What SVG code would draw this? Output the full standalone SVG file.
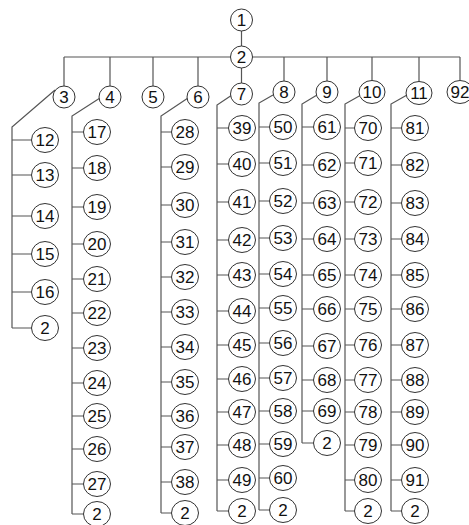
<svg xmlns="http://www.w3.org/2000/svg" width="469" height="525" viewBox="0 0 469 525">
<style>
.e{stroke:#555;stroke-width:1.2;fill:none}
.n ellipse{fill:#fff;stroke:#333;stroke-width:1}
.n text{font-family:"Liberation Sans",Arial,sans-serif;font-size:17px;fill:#111;text-anchor:middle}
</style>
<rect width="469" height="525" fill="#fff"/>
<g id="connectors" class="e">
<path d="M241.5 31V46M64 57H460M64 57V86M110 57V86M153 57V86M198 57V86M241.5 68V83M284 57V81M327 57V81M372 57V81M419 57V82M460 57V80"/>
<path d="M55 90L12 127V328M12 140H32M12 175H32M12 216H32M12 254H32M12 292H32M12 328H32"/>
<path d="M100 98L72 116V514M72 132H84M72 168H84M72 207H84M72 244H84M72 279H84M72 313H84M72 348H84M72 383H84M72 416H84M72 449H84M72 484H84M72 514H84"/>
<path d="M188 98L161 116V513M161 132H172M161 167H172M161 205H172M161 242H172M161 277H172M161 312H172M161 347H172M161 382H172M161 416H172M161 447H172M161 482H172M161 513H172"/>
<path d="M232 95L217 105V511M217 128H229M217 164H229M217 202H229M217 240H229M217 275H229M217 311H229M217 345H229M217 379H229M217 412H229M217 445H229M217 480H229M217 511H229"/>
<path d="M273 95L259 103V510M259 127H270M259 163H270M259 201H270M259 238H270M259 274H270M259 308H270M259 343H270M259 378H270M259 411H270M259 444H270M259 478H270M259 510H270"/>
<path d="M317 95L302 104V443M302 127H314M302 165H314M302 203H314M302 239H314M302 275H314M302 309H314M302 346H314M302 380H314M302 411H314M302 443H314"/>
<path d="M361 95L345 104V511M345 128H355M345 163H355M345 202H355M345 239H355M345 275H355M345 309H355M345 345H355M345 380H355M345 412H355M345 445H355M345 480H355M345 511H355"/>
<path d="M407 95L391 104V511M391 128H402M391 165H402M391 203H402M391 239H402M391 275H402M391 309H402M391 345H402M391 380H402M391 412H402M391 445H402M391 480H402M391 511H402"/>
</g>
<g id="nodes" class="n">
<g id="n1"><ellipse cx="241.5" cy="20" rx="11" ry="11"/><text x="241.5" y="26">1</text></g>
<g id="n2"><ellipse cx="241.5" cy="57" rx="11" ry="11"/><text x="241.5" y="63">2</text></g>
<g id="n3"><ellipse cx="64" cy="97" rx="11" ry="11"/><text x="64" y="103">3</text></g>
<g id="n4"><ellipse cx="110" cy="97" rx="11" ry="11"/><text x="110" y="103">4</text></g>
<g id="n5"><ellipse cx="153" cy="97" rx="11" ry="11"/><text x="153" y="103">5</text></g>
<g id="n6"><ellipse cx="198" cy="97" rx="11" ry="11"/><text x="198" y="103">6</text></g>
<g id="n7"><ellipse cx="241.5" cy="94" rx="11" ry="11"/><text x="241.5" y="100">7</text></g>
<g id="n8"><ellipse cx="284" cy="92" rx="11" ry="11"/><text x="284" y="98">8</text></g>
<g id="n9"><ellipse cx="327" cy="92" rx="11" ry="11"/><text x="327" y="98">9</text></g>
<g id="n10"><ellipse cx="372" cy="92" rx="13" ry="11.5"/><text x="372" y="98">10</text></g>
<g id="n11"><ellipse cx="419" cy="93" rx="13" ry="11.5"/><text x="419" y="99">11</text></g>
<g id="n92"><ellipse cx="460" cy="92" rx="13" ry="11.5"/><text x="460" y="98">92</text></g>

<g id="n12"><ellipse cx="45" cy="140" rx="13.5" ry="12.5"/><text x="45" y="146">12</text></g>
<g id="n13"><ellipse cx="45" cy="175" rx="13.5" ry="12.5"/><text x="45" y="181">13</text></g>
<g id="n14"><ellipse cx="45" cy="216" rx="13.5" ry="12.5"/><text x="45" y="222">14</text></g>
<g id="n15"><ellipse cx="45" cy="254" rx="13.5" ry="12.5"/><text x="45" y="260">15</text></g>
<g id="n16"><ellipse cx="45" cy="292" rx="13.5" ry="12.5"/><text x="45" y="298">16</text></g>
<g id="n3e"><ellipse cx="45" cy="328" rx="13.5" ry="12.5"/><text x="45" y="334">2</text></g>

<g id="n17"><ellipse cx="97" cy="132" rx="13.5" ry="12.5"/><text x="97" y="138">17</text></g>
<g id="n18"><ellipse cx="97" cy="168" rx="13.5" ry="12.5"/><text x="97" y="174">18</text></g>
<g id="n19"><ellipse cx="97" cy="207" rx="13.5" ry="12.5"/><text x="97" y="213">19</text></g>
<g id="n20"><ellipse cx="97" cy="244" rx="13.5" ry="12.5"/><text x="97" y="250">20</text></g>
<g id="n21"><ellipse cx="97" cy="279" rx="13.5" ry="12.5"/><text x="97" y="285">21</text></g>
<g id="n22"><ellipse cx="97" cy="313" rx="13.5" ry="12.5"/><text x="97" y="319">22</text></g>
<g id="n23"><ellipse cx="97" cy="348" rx="13.5" ry="12.5"/><text x="97" y="354">23</text></g>
<g id="n24"><ellipse cx="97" cy="383" rx="13.5" ry="12.5"/><text x="97" y="389">24</text></g>
<g id="n25"><ellipse cx="97" cy="416" rx="13.5" ry="12.5"/><text x="97" y="422">25</text></g>
<g id="n26"><ellipse cx="97" cy="449" rx="13.5" ry="12.5"/><text x="97" y="455">26</text></g>
<g id="n27"><ellipse cx="97" cy="484" rx="13.5" ry="12.5"/><text x="97" y="490">27</text></g>
<g id="n4e"><ellipse cx="97" cy="514" rx="13.5" ry="12.5"/><text x="97" y="520">2</text></g>

<g id="n28"><ellipse cx="185" cy="132" rx="13.5" ry="12.5"/><text x="185" y="138">28</text></g>
<g id="n29"><ellipse cx="185" cy="167" rx="13.5" ry="12.5"/><text x="185" y="173">29</text></g>
<g id="n30"><ellipse cx="185" cy="205" rx="13.5" ry="12.5"/><text x="185" y="211">30</text></g>
<g id="n31"><ellipse cx="185" cy="242" rx="13.5" ry="12.5"/><text x="185" y="248">31</text></g>
<g id="n32"><ellipse cx="185" cy="277" rx="13.5" ry="12.5"/><text x="185" y="283">32</text></g>
<g id="n33"><ellipse cx="185" cy="312" rx="13.5" ry="12.5"/><text x="185" y="318">33</text></g>
<g id="n34"><ellipse cx="185" cy="347" rx="13.5" ry="12.5"/><text x="185" y="353">34</text></g>
<g id="n35"><ellipse cx="185" cy="382" rx="13.5" ry="12.5"/><text x="185" y="388">35</text></g>
<g id="n36"><ellipse cx="185" cy="416" rx="13.5" ry="12.5"/><text x="185" y="422">36</text></g>
<g id="n37"><ellipse cx="185" cy="447" rx="13.5" ry="12.5"/><text x="185" y="453">37</text></g>
<g id="n38"><ellipse cx="185" cy="482" rx="13.5" ry="12.5"/><text x="185" y="488">38</text></g>
<g id="n6e"><ellipse cx="185" cy="513" rx="13.5" ry="12.5"/><text x="185" y="519">2</text></g>

<g id="n39"><ellipse cx="242" cy="128" rx="13.5" ry="12.5"/><text x="242" y="134">39</text></g>
<g id="n40"><ellipse cx="242" cy="164" rx="13.5" ry="12.5"/><text x="242" y="170">40</text></g>
<g id="n41"><ellipse cx="242" cy="202" rx="13.5" ry="12.5"/><text x="242" y="208">41</text></g>
<g id="n42"><ellipse cx="242" cy="240" rx="13.5" ry="12.5"/><text x="242" y="246">42</text></g>
<g id="n43"><ellipse cx="242" cy="275" rx="13.5" ry="12.5"/><text x="242" y="281">43</text></g>
<g id="n44"><ellipse cx="242" cy="311" rx="13.5" ry="12.5"/><text x="242" y="317">44</text></g>
<g id="n45"><ellipse cx="242" cy="345" rx="13.5" ry="12.5"/><text x="242" y="351">45</text></g>
<g id="n46"><ellipse cx="242" cy="379" rx="13.5" ry="12.5"/><text x="242" y="385">46</text></g>
<g id="n47"><ellipse cx="242" cy="412" rx="13.5" ry="12.5"/><text x="242" y="418">47</text></g>
<g id="n48"><ellipse cx="242" cy="445" rx="13.5" ry="12.5"/><text x="242" y="451">48</text></g>
<g id="n49"><ellipse cx="242" cy="480" rx="13.5" ry="12.5"/><text x="242" y="486">49</text></g>
<g id="n7e"><ellipse cx="242" cy="511" rx="13.5" ry="12.5"/><text x="242" y="517">2</text></g>

<g id="n50"><ellipse cx="283" cy="127" rx="13.5" ry="12.5"/><text x="283" y="133">50</text></g>
<g id="n51"><ellipse cx="283" cy="163" rx="13.5" ry="12.5"/><text x="283" y="169">51</text></g>
<g id="n52"><ellipse cx="283" cy="201" rx="13.5" ry="12.5"/><text x="283" y="207">52</text></g>
<g id="n53"><ellipse cx="283" cy="238" rx="13.5" ry="12.5"/><text x="283" y="244">53</text></g>
<g id="n54"><ellipse cx="283" cy="274" rx="13.5" ry="12.5"/><text x="283" y="280">54</text></g>
<g id="n55"><ellipse cx="283" cy="308" rx="13.5" ry="12.5"/><text x="283" y="314">55</text></g>
<g id="n56"><ellipse cx="283" cy="343" rx="13.5" ry="12.5"/><text x="283" y="349">56</text></g>
<g id="n57"><ellipse cx="283" cy="378" rx="13.5" ry="12.5"/><text x="283" y="384">57</text></g>
<g id="n58"><ellipse cx="283" cy="411" rx="13.5" ry="12.5"/><text x="283" y="417">58</text></g>
<g id="n59"><ellipse cx="283" cy="444" rx="13.5" ry="12.5"/><text x="283" y="450">59</text></g>
<g id="n60"><ellipse cx="283" cy="478" rx="13.5" ry="12.5"/><text x="283" y="484">60</text></g>
<g id="n8e"><ellipse cx="283" cy="510" rx="13.5" ry="12.5"/><text x="283" y="516">2</text></g>

<g id="n61"><ellipse cx="327" cy="127" rx="13.5" ry="12.5"/><text x="327" y="133">61</text></g>
<g id="n62"><ellipse cx="327" cy="165" rx="13.5" ry="12.5"/><text x="327" y="171">62</text></g>
<g id="n63"><ellipse cx="327" cy="203" rx="13.5" ry="12.5"/><text x="327" y="209">63</text></g>
<g id="n64"><ellipse cx="327" cy="239" rx="13.5" ry="12.5"/><text x="327" y="245">64</text></g>
<g id="n65"><ellipse cx="327" cy="275" rx="13.5" ry="12.5"/><text x="327" y="281">65</text></g>
<g id="n66"><ellipse cx="327" cy="309" rx="13.5" ry="12.5"/><text x="327" y="315">66</text></g>
<g id="n67"><ellipse cx="327" cy="346" rx="13.5" ry="12.5"/><text x="327" y="352">67</text></g>
<g id="n68"><ellipse cx="327" cy="380" rx="13.5" ry="12.5"/><text x="327" y="386">68</text></g>
<g id="n69"><ellipse cx="327" cy="411" rx="13.5" ry="12.5"/><text x="327" y="417">69</text></g>
<g id="n9e"><ellipse cx="327" cy="443" rx="13.5" ry="12.5"/><text x="327" y="449">2</text></g>

<g id="n70"><ellipse cx="368" cy="128" rx="13.5" ry="12.5"/><text x="368" y="134">70</text></g>
<g id="n71"><ellipse cx="368" cy="163" rx="13.5" ry="12.5"/><text x="368" y="169">71</text></g>
<g id="n72"><ellipse cx="368" cy="202" rx="13.5" ry="12.5"/><text x="368" y="208">72</text></g>
<g id="n73"><ellipse cx="368" cy="239" rx="13.5" ry="12.5"/><text x="368" y="245">73</text></g>
<g id="n74"><ellipse cx="368" cy="275" rx="13.5" ry="12.5"/><text x="368" y="281">74</text></g>
<g id="n75"><ellipse cx="368" cy="309" rx="13.5" ry="12.5"/><text x="368" y="315">75</text></g>
<g id="n76"><ellipse cx="368" cy="345" rx="13.5" ry="12.5"/><text x="368" y="351">76</text></g>
<g id="n77"><ellipse cx="368" cy="380" rx="13.5" ry="12.5"/><text x="368" y="386">77</text></g>
<g id="n78"><ellipse cx="368" cy="412" rx="13.5" ry="12.5"/><text x="368" y="418">78</text></g>
<g id="n79"><ellipse cx="368" cy="445" rx="13.5" ry="12.5"/><text x="368" y="451">79</text></g>
<g id="n80"><ellipse cx="368" cy="480" rx="13.5" ry="12.5"/><text x="368" y="486">80</text></g>
<g id="n10e"><ellipse cx="368" cy="511" rx="13.5" ry="12.5"/><text x="368" y="517">2</text></g>

<g id="n81"><ellipse cx="415" cy="128" rx="13.5" ry="12.5"/><text x="415" y="134">81</text></g>
<g id="n82"><ellipse cx="415" cy="165" rx="13.5" ry="12.5"/><text x="415" y="171">82</text></g>
<g id="n83"><ellipse cx="415" cy="203" rx="13.5" ry="12.5"/><text x="415" y="209">83</text></g>
<g id="n84"><ellipse cx="415" cy="239" rx="13.5" ry="12.5"/><text x="415" y="245">84</text></g>
<g id="n85"><ellipse cx="415" cy="275" rx="13.5" ry="12.5"/><text x="415" y="281">85</text></g>
<g id="n86"><ellipse cx="415" cy="309" rx="13.5" ry="12.5"/><text x="415" y="315">86</text></g>
<g id="n87"><ellipse cx="415" cy="345" rx="13.5" ry="12.5"/><text x="415" y="351">87</text></g>
<g id="n88"><ellipse cx="415" cy="380" rx="13.5" ry="12.5"/><text x="415" y="386">88</text></g>
<g id="n89"><ellipse cx="415" cy="412" rx="13.5" ry="12.5"/><text x="415" y="418">89</text></g>
<g id="n90"><ellipse cx="415" cy="445" rx="13.5" ry="12.5"/><text x="415" y="451">90</text></g>
<g id="n91"><ellipse cx="415" cy="480" rx="13.5" ry="12.5"/><text x="415" y="486">91</text></g>
<g id="n11e"><ellipse cx="415" cy="511" rx="13.5" ry="12.5"/><text x="415" y="517">2</text></g>
</g>
</svg>
